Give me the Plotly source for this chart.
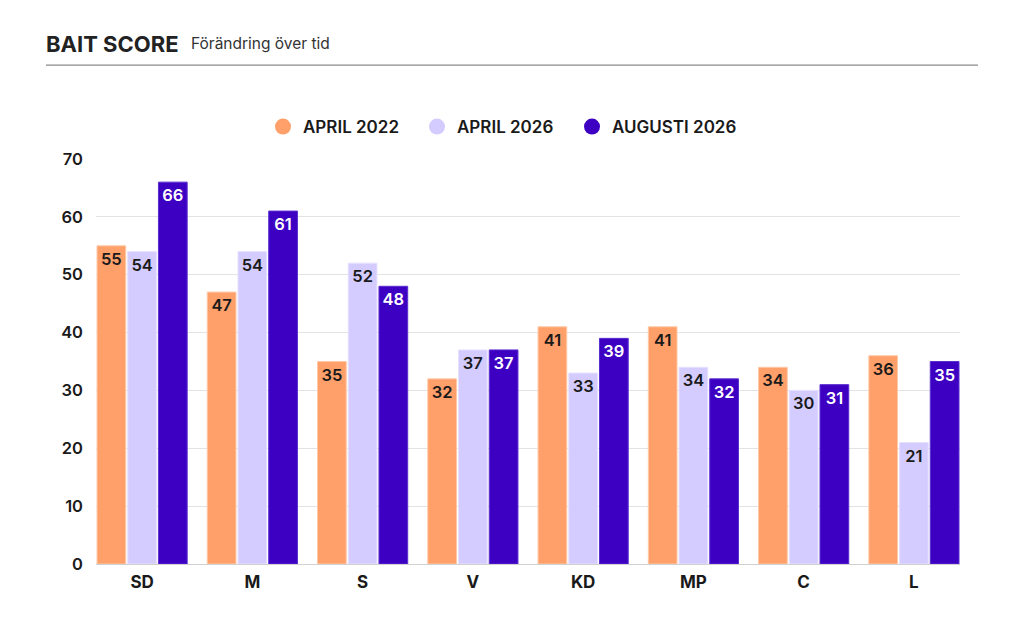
import plotly.graph_objects as go

categories = ["SD", "M", "S", "V", "KD", "MP", "C", "L"]
series_names = ["APRIL 2022", "APRIL 2026", "AUGUSTI 2026"]
april_2022 = [55, 47, 35, 32, 41, 41, 34, 36]
april_2026 = [54, 54, 52, 37, 33, 34, 30, 21]
augusti_2026 = [66, 61, 48, 37, 39, 32, 31, 35]
y_ticks = [0, 10, 20, 30, 40, 50, 60, 70]

colors = ["#FFA06B", "#D4CCFF", "#3D00C2"]
edge_colors = ["#FFC9A8", "#E6E1FF", "#5A2FD0"]
text_colors = ["#1a1a1a", "#1a1a1a", "#ffffff"]

FONT = "Inter, Roboto, Arial, sans-serif"

# layout position of each legend entry (paper x of legend box left edge)
legend_ids = ["legend", "legend2", "legend3"]
legend_x = [0.0, 0.0, 0.0]
PLOT_L, PLOT_W = 96, 864
for i, px in enumerate([263, 417, 572]):
    legend_x[i] = (px - PLOT_L) / PLOT_W

fig = go.Figure()
for name, vals, c, ec, tc, lid in zip(series_names, [april_2022, april_2026, augusti_2026],
                                      colors, edge_colors, text_colors, legend_ids):
    fig.add_trace(go.Bar(
        x=categories, y=vals, name=name,
        marker=dict(color=c, line=dict(color=ec, width=1)),
        text=[str(v) for v in vals], textposition="inside", insidetextanchor="end",
        textangle=0, constraintext="none",
        textfont=dict(family=FONT, size=16.5, color=tc, weight=600),
        showlegend=False, hoverinfo="skip",
    ))
    # legend entry with circle marker
    fig.add_trace(go.Scatter(
        x=[None], y=[None], mode="markers", name=name, legend=lid,
        marker=dict(color=c, size=18, symbol="circle"),
        showlegend=True,
    ))

legend_style = dict(orientation="h", xanchor="left", y=1.079, yanchor="middle",
                    font=dict(family=FONT, size=17, color="#1a1a1a", weight=600),
                    itemsizing="trace", itemwidth=30, bgcolor="rgba(0,0,0,0)")

fig.update_layout(
    width=1024, height=630,
    margin=dict(l=96, r=64, t=159, b=66),
    paper_bgcolor="white", plot_bgcolor="white",
    barmode="group", bargap=0.164, bargroupgap=0.065,
    font=dict(family=FONT, color="#1a1a1a"),
    legend=dict(x=legend_x[0], **legend_style),
    legend2=dict(x=legend_x[1], **legend_style),
    legend3=dict(x=legend_x[2], **legend_style),
    xaxis=dict(type="category", range=[-0.418, 7.418], showgrid=False, zeroline=False,
               showline=False, ticks="", ticklabelstandoff=6,
               tickfont=dict(family=FONT, size=17, weight=700, color="#1a1a1a"),
               fixedrange=True),
    yaxis=dict(range=[0, 70], tickvals=y_ticks, showgrid=True, gridcolor="#e3e3e3", gridwidth=1,
               zeroline=True, zerolinecolor="#d0d0d0", zerolinewidth=1, showline=False, ticks="",
               ticklabelstandoff=12,
               tickfont=dict(family=FONT, size=16.5, weight=600, color="#1a1a1a"), fixedrange=True),
    annotations=[
        dict(text="BAIT SCORE", xref="paper", yref="paper", x=-0.0602, y=1.284,
             xanchor="left", yanchor="middle", showarrow=False,
             font=dict(family=FONT, size=22, weight=700, color="#222222")),
        dict(text="Förändring över tid", xref="paper", yref="paper", x=0.1076, y=1.284,
             xanchor="left", yanchor="middle", showarrow=False,
             font=dict(family=FONT, size=15.5, color="#333333")),
    ],
    shapes=[
        dict(type="line", xref="paper", yref="paper", x0=-0.0579, x1=1.0208, y0=1.232, y1=1.232,
             line=dict(color="#8a8a8a", width=1.2)),
    ],
)

fig.write_html("out.html", post_script="document.body.style.margin='0';",
               config={"displayModeBar": False})
